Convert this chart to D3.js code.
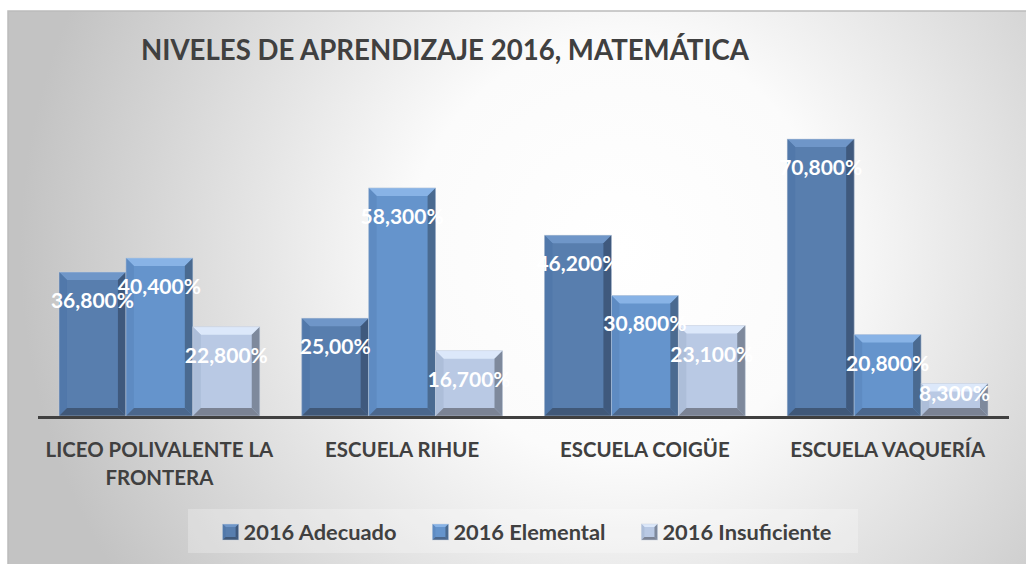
<!DOCTYPE html>
<html>
<head>
<meta charset="utf-8">
<script src="https://cdn.jsdelivr.net/npm/d3@7"></script>
<style>
  html, body { margin: 0; padding: 0; background: #ffffff; }
  svg { display: block; }
  text { font-family: Lato, "Open Sans", sans-serif; font-weight: bold; }
</style>
</head>
<body>
<svg id="chart" width="1026" height="564"></svg>
<script>
// ---- data ----
const title = "NIVELES DE APRENDIZAJE 2016, MATEMÁTICA";
const categories = ["LICEO POLIVALENTE LA FRONTERA", "ESCUELA RIHUE", "ESCUELA COIGÜE", "ESCUELA VAQUERÍA"];
const seriesNames = ["2016 Adecuado", "2016 Elemental", "2016 Insuficiente"];
const adecuado = [36.8, 25.0, 46.2, 70.8];
const elemental = [40.4, 58.3, 30.8, 20.8];
const insuficiente = [22.8, 16.7, 23.1, 8.3];
const adecuadoLabels = ["36,800%", "25,00%", "46,200%", "70,800%"];
const elementalLabels = ["40,400%", "58,300%", "30,800%", "20,800%"];
const insuficienteLabels = ["22,800%", "16,700%", "23,100%", "8,300%"];

// ---- styles ----
const palettes = [
  { face: "#587eae", top: "#6f96c8", left: "#5178aa", right: "#3f597d", bottom: "#405878" },
  { face: "#6594cc", top: "#88b3e6", left: "#5e8bc2", right: "#4a6a90", bottom: "#4b678c" },
  { face: "#b9c9e4", top: "#dce8fa", left: "#adbed9", right: "#7e899c", bottom: "#7b8394" }
];
const textColor = "#404040";

const seriesValues = [adecuado, elemental, insuficiente];
const seriesLabels = [adecuadoLabels, elementalLabels, insuficienteLabels];

const svg = d3.select("#chart");
const defs = svg.append("defs");

// background gradient
const rg = defs.append("radialGradient").attr("id", "bg")
  .attr("gradientUnits", "userSpaceOnUse")
  .attr("cx", 620).attr("cy", 250).attr("r", 600);
rg.append("stop").attr("offset", 0).attr("stop-color", "#ffffff");
rg.append("stop").attr("offset", 0.35).attr("stop-color", "#fbfbfb");
rg.append("stop").attr("offset", 1).attr("stop-color", "#c3c3c3");

svg.append("rect").attr("x", 8).attr("y", 11).attr("width", 1040).attr("height", 580)
  .attr("fill", "url(#bg)").attr("stroke", "#bcbcbc").attr("stroke-width", 1.5);

// scales
const x0 = d3.scaleBand().domain(categories).range([38, 1009]).paddingInner(0.173).paddingOuter(0.0865);
const x1 = d3.scaleBand().domain(seriesNames).range([0, x0.bandwidth()]).padding(0);
const y = d3.scaleLinear().domain([0, 80]).range([416, 103]);

// title
svg.append("text").attr("x", 445).attr("y", 60).attr("text-anchor", "middle")
  .attr("fill", textColor).attr("font-size", 27.6).text(title);

function bevelRect(g, x, yTop, w, h, pal, b0) {
  const b = Math.min(b0, h / 2, w / 2);
  const xr = x + w, yb = yTop + h;
  g.append("rect").attr("x", x).attr("y", yTop).attr("width", w).attr("height", h).attr("fill", pal.face);
  const poly = (pts, fill) => g.append("polygon").attr("points", pts.map(p => p.join(",")).join(" ")).attr("fill", fill);
  poly([[x, yTop], [xr, yTop], [xr - b, yTop + b], [x + b, yTop + b]], pal.top);
  poly([[x, yTop], [x + b, yTop + b], [x + b, yb - b], [x, yb]], pal.left);
  poly([[xr, yTop], [xr, yb], [xr - b, yb - b], [xr - b, yTop + b]], pal.right);
  poly([[x, yb], [x + b, yb - b], [xr - b, yb - b], [xr, yb]], pal.bottom);
  g.append("rect").attr("x", x).attr("y", yTop).attr("width", w).attr("height", h)
    .attr("fill", "none").attr("stroke", "#c9d2de").attr("stroke-opacity", 0.6).attr("stroke-width", 0.8);
}

// bars
const plot = svg.append("g");
categories.forEach((cat, ci) => {
  seriesNames.forEach((s, si) => {
    const v = seriesValues[si][ci];
    const bx = x0(cat) + x1(s);
    const bw = x1.bandwidth();
    const top = y(v);
    const h = y(0) - top;
    bevelRect(plot.append("g"), bx, top, bw, h, palettes[si], 8);
  });
});

// axis line
svg.append("line").attr("x1", 38).attr("x2", 1009).attr("y1", y(0) + 1.5).attr("y2", y(0) + 1.5)
  .attr("stroke", "#404040").attr("stroke-width", 3);

// data labels
categories.forEach((cat, ci) => {
  seriesNames.forEach((s, si) => {
    const v = seriesValues[si][ci];
    const cx = x0(cat) + x1(s) + x1.bandwidth() / 2;
    const top = y(v);
    const by = Math.min(top + 36, y(0) - 15);
    svg.append("text").attr("x", cx).attr("y", by).attr("text-anchor", "middle")
      .attr("fill", "#ffffff").attr("font-size", 21).text(seriesLabels[si][ci]);
  });
});

// category labels with wrapping
categories.forEach(cat => {
  const cx = x0(cat) + x0.bandwidth() / 2;
  const t = svg.append("text").attr("x", cx).attr("y", 457).attr("text-anchor", "middle")
    .attr("fill", textColor).attr("font-size", 20.4);
  const words = cat.split(" ");
  let line = [];
  let tspan = t.append("tspan").attr("x", cx).attr("dy", 0);
  const maxW = x0.step() - 8;
  words.forEach(w => {
    line.push(w);
    tspan.text(line.join(" "));
    if (tspan.node().getComputedTextLength() > maxW && line.length > 1) {
      line.pop();
      tspan.text(line.join(" "));
      line = [w];
      tspan = t.append("tspan").attr("x", cx).attr("dy", 28).text(w);
    }
  });
});

// legend
svg.append("rect").attr("x", 188).attr("y", 509).attr("width", 670).attr("height", 44)
  .attr("fill", "#ffffff").attr("fill-opacity", 0.25);
const lg = svg.append("g");
let lx = 0;
seriesNames.forEach((s, si) => {
  const g = lg.append("g");
  bevelRect(g, lx, 524, 16, 16, palettes[si], 3);
  const t = g.append("text").attr("x", lx + 21).attr("y", 540).attr("fill", textColor)
    .attr("font-size", 21.8).text(s);
  lx += 21 + t.node().getComputedTextLength() + 36;
});
const totalW = lx - 36;
lg.attr("transform", `translate(${527 - totalW / 2},0)`);
</script>
</body>
</html>
